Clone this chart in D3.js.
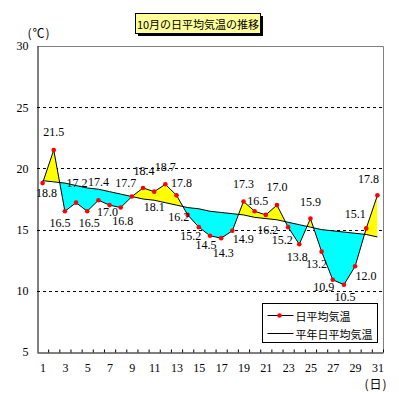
<!DOCTYPE html>
<html>
<head>
<meta charset="utf-8">
<script src="https://cdn.jsdelivr.net/npm/d3@7"></script>
<style>
  body { margin: 0; background: #fff; }
  svg { display: block; }
  .num { font-family: "Liberation Serif", "DejaVu Serif", serif; font-size: 12px; }
  .jp { font-family: "Noto Sans CJK JP", sans-serif; }
</style>
</head>
<body>
<div id="chart"></div>
<script>
'use strict';

// 10月の日平均気温 (daily mean) and 平年 (normal)
var days = d3.range(1, 32);
var daily = [18.8, 21.5, 16.5, 17.2, 16.5, 17.4, 17.0, 16.8, 17.7, 18.4,
             18.1, 18.7, 17.8, 16.2, 15.2, 14.5, 14.3, 14.9, 17.3, 16.5,
             16.2, 17.0, 15.2, 13.8, 15.9, 13.2, 10.9, 10.5, 12.0, 15.1, 17.8];
var normal = [19.0, 18.9, 18.8, 18.6, 18.4, 18.3, 18.1, 17.9, 17.7, 17.5,
              17.4, 17.2, 17.0, 16.8, 16.7, 16.5, 16.4, 16.3, 16.2, 16.0,
              15.9, 15.8, 15.6, 15.4, 15.2, 15.0, 14.9, 14.8, 14.7, 14.6, 14.4];
var yTicks = [5, 10, 15, 20, 25, 30];
var xTickDays = [1, 3, 5, 7, 9, 11, 13, 15, 17, 19, 21, 23, 25, 27, 29, 31];
var titleText = "10月の日平均気温の推移";
var legendNames = ["日平均気温", "平年日平均気温"];

// hand placement of each value label (dx, dy from its point)
var labelNudge = [[4, 10], [0, -18], [-5, 12], [1, -20], [2, 12], [0, -18], [-2, 7], [2, 13],
                  [-6, -14], [1, -17], [0, 15], [0, -17], [5, -12], [-9, 2], [-8, 9], [-4, 9],
                  [2, 15], [11, 8], [0, -17], [3, -10], [2, 15], [0, -18], [-6, 13], [-2, 13],
                  [0, -17], [-5, 12], [-9, 7], [1, 12], [11, 10], [-11, -14], [-9, -16]];

var width = 399, height = 400;
var plotLeft = 37, plotRight = 383, plotTop = 46, plotBottom = 352;

var svg = d3.select("#chart").append("svg")
    .attr("width", width)
    .attr("height", height);

var x = d3.scaleLinear().domain([0.5, 31.5]).range([plotLeft, plotRight]);
var y = d3.scaleLinear().domain([5, 30]).range([plotBottom, plotTop]);

var rows = days.map(function(d, i) {
    return {day: d, t: daily[i], n: normal[i]};
});

// title box with shadow
var title = svg.append("g");
title.append("rect").attr("x", 138).attr("y", 16).attr("width", 125).attr("height", 20).attr("fill", "#000");
title.append("rect").attr("x", 135.5).attr("y", 13.5).attr("width", 125).attr("height", 20)
    .attr("fill", "#ffff99").attr("stroke", "#000");
title.append("text").attr("class", "jp")
    .attr("x", 198).attr("y", 23.5)
    .attr("text-anchor", "middle").attr("dominant-baseline", "central")
    .style("font-size", "11px")
    .text(titleText);

// unit labels
svg.append("text").attr("class", "jp")
    .attr("x", 39).attr("y", 32).attr("text-anchor", "middle").attr("dominant-baseline", "central")
    .style("font-size", "12px").style("letter-spacing", "1px")
    .text("(℃)");
svg.append("text").attr("class", "jp")
    .attr("x", 376).attr("y", 383).attr("text-anchor", "middle").attr("dominant-baseline", "central")
    .style("font-size", "12px").style("letter-spacing", "1px")
    .text("(日)");

// plot frame top/right (gray)
svg.append("path")
    .attr("d", "M" + plotLeft + "," + (plotTop + 0.5) + "H" + (plotRight + 0.5) + "V" + plotBottom)
    .attr("fill", "none").attr("stroke", "#808080");

// dashed grid
svg.append("g").selectAll("line")
    .data(yTicks.filter(function(v) { return v > 5 && v < 30; }))
  .enter().append("line")
    .attr("x1", plotLeft).attr("x2", plotRight)
    .attr("y1", function(d) { return Math.round(y(d)) + 0.5; })
    .attr("y2", function(d) { return Math.round(y(d)) + 0.5; })
    .attr("stroke", "#000").attr("stroke-dasharray", "3,3");

// fills between the two lines
var defs = svg.append("defs");
defs.append("clipPath").attr("id", "above")
  .append("path")
    .attr("d", d3.area().x(function(d) { return x(d.day); })
        .y0(y(30)).y1(function(d) { return y(d.n); })(rows));
defs.append("clipPath").attr("id", "below")
  .append("path")
    .attr("d", d3.area().x(function(d) { return x(d.day); })
        .y0(y(5)).y1(function(d) { return y(d.n); })(rows));

var between = d3.area()
    .x(function(d) { return x(d.day); })
    .y0(function(d) { return y(d.n); })
    .y1(function(d) { return y(d.t); });

svg.append("path").attr("d", between(rows)).attr("fill", "#ffff00").attr("clip-path", "url(#above)");
svg.append("path").attr("d", between(rows)).attr("fill", "#00ffff").attr("clip-path", "url(#below)");

// lines
var normalLine = d3.line().x(function(d) { return x(d.day); }).y(function(d) { return y(d.n); });
var dailyLine = d3.line().x(function(d) { return x(d.day); }).y(function(d) { return y(d.t); });

svg.append("path").attr("d", normalLine(rows)).attr("fill", "none").attr("stroke", "#000");
svg.append("path").attr("d", dailyLine(rows)).attr("fill", "none").attr("stroke", "#000");

svg.append("g").selectAll("circle")
    .data(rows)
  .enter().append("circle")
    .attr("cx", function(d) { return x(d.day); })
    .attr("cy", function(d) { return y(d.t); })
    .attr("r", 2.3)
    .attr("fill", "#ff0000");

// value labels
svg.append("g").selectAll("text")
    .data(rows)
  .enter().append("text")
    .attr("class", "num")
    .attr("x", function(d, i) { return x(d.day) + labelNudge[i][0]; })
    .attr("y", function(d, i) { return y(d.t) + labelNudge[i][1]; })
    .attr("text-anchor", "middle")
    .attr("dominant-baseline", "central")
    .text(function(d) { return d.t.toFixed(1); });

// axes
var yAxis = svg.append("g")
    .attr("transform", "translate(" + (plotLeft + 0.5) + ",0)")
    .call(d3.axisLeft(y).tickValues(yTicks).tickSize(0).tickPadding(9));
yAxis.select(".domain").attr("stroke", "#000");
yAxis.selectAll("text").attr("class", "num").attr("fill", "#000");

var xAxis = svg.append("g")
    .attr("transform", "translate(0," + (plotBottom + 0.5) + ")")
    .call(d3.axisBottom(x).tickValues(xTickDays).tickSize(0).tickPadding(11));
xAxis.select(".domain").remove();
xAxis.selectAll("text").attr("class", "num").attr("fill", "#000");

var xMinor = svg.append("g")
    .attr("transform", "translate(0," + (plotBottom + 0.5) + ")")
    .call(d3.axisBottom(x).tickValues(d3.range(0, 32).map(function(d) { return d + 0.5; }))
        .tickSize(-3).tickSizeOuter(0).tickFormat(""));
xMinor.select(".domain").attr("stroke", "#000");
xMinor.selectAll(".tick").filter(function(d) { return d === 0.5; }).remove();

// legend
var legend = svg.append("g").attr("transform", "translate(262.5,303.5)");
legend.append("rect").attr("width", 115).attr("height", 39)
    .attr("fill", "#fff").attr("stroke", "#000");
legendNames.forEach(function(name, i) {
    var ly = 12 + i * 18;
    legend.append("line").attr("x1", 5).attr("x2", 31).attr("y1", ly).attr("y2", ly).attr("stroke", "#000");
    if (i === 0) {
        legend.append("circle").attr("cx", 17).attr("cy", ly).attr("r", 2.3).attr("fill", "#ff0000");
    }
    legend.append("text").attr("class", "jp")
        .attr("x", 33).attr("y", ly)
        .attr("dominant-baseline", "central")
        .style("font-size", "11px")
        .text(name);
});
</script>
</body>
</html>
